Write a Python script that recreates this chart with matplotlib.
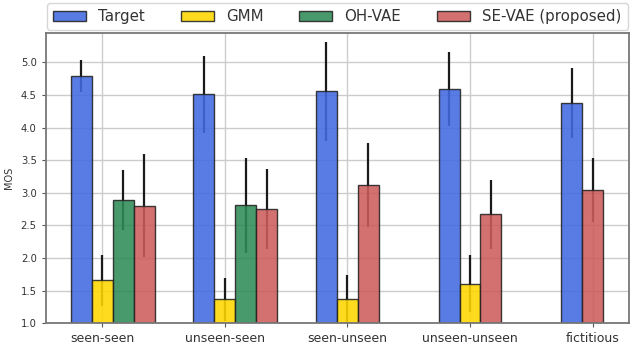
import matplotlib
matplotlib.use("Agg")
import matplotlib.pyplot as plt
import numpy as np

# Data (None = bar not present)
conditions = ["seen-seen", "unseen-seen", "seen-unseen", "unseen-unseen", "fictitious"]
series = ["Target", "GMM", "OH-VAE", "SE-VAE (proposed)"]

target_mean = [4.79, 4.51, 4.56, 4.59, 4.38]
target_err = [0.24, 0.59, 0.76, 0.57, 0.54]
gmm_mean = [1.66, 1.37, 1.38, 1.61, None]
gmm_err = [0.39, 0.33, 0.36, 0.43, None]
ohvae_mean = [2.89, 2.81, None, None, None]
ohvae_err = [0.46, 0.73, None, None, None]
sevae_mean = [2.80, 2.75, 3.12, 2.67, 3.05]
sevae_err = [0.79, 0.61, 0.65, 0.53, 0.49]

means = [target_mean, gmm_mean, ohvae_mean, sevae_mean]
errs = [target_err, gmm_err, ohvae_err, sevae_err]
colors = ["royalblue", "gold", "seagreen", "indianred"]

fig = plt.figure(figsize=(6.41, 3.54), dpi=100)
ax = fig.add_axes([0.0713, 0.0867, 0.9097, 0.8213])

w = 0.171
for g in range(len(conditions)):
    # first series sits left of the tick, the rest are packed from the tick on
    slot = -1
    for s in range(len(series)):
        m = means[s][g]
        if m is None:
            continue
        x = g + slot * w
        slot += 1
        ax.errorbar(x, m, yerr=errs[s][g], fmt="none", ecolor="#1a1a1a",
                    elinewidth=1.6, capsize=0, zorder=0.8)
        ax.bar(x, m - 1.0, bottom=1.0, width=w, color=colors[s],
               edgecolor="#222222", linewidth=1.0, alpha=0.88, zorder=1)

handles = [plt.Rectangle((0, 0), 1, 1, facecolor=c, edgecolor="#222222",
                         linewidth=1.0, alpha=0.88) for c in colors]
leg = ax.legend(handles, series, loc="lower center", bbox_to_anchor=(0.5, 1.0),
                ncol=4, fontsize=10.8, frameon=True, borderaxespad=0.15,
                handlelength=2.2, columnspacing=2.4, fancybox=True,
                edgecolor="#cccccc")
for t in leg.get_texts():
    t.set_color("#333333")

ax.set_xticks(np.arange(len(conditions)))
ax.set_xticklabels(conditions, fontsize=9, color="#333333")
ax.set_xlim(-0.462, 4.296)
ax.set_ylim(1.0, 5.457)
yt = np.arange(1.0, 5.01, 0.5)
ax.set_yticks(yt)
ax.set_yticklabels([f"{v:.1f}" for v in yt], fontsize=7.2, color="#333333")
ax.set_ylabel("MOS", fontsize=7, color="#333333", labelpad=5)
ax.tick_params(axis="both", length=3, color="#555555")

ax.grid(True, color="#cccccc", linewidth=1.0, zorder=0)
ax.set_axisbelow(True)
for sp in ax.spines.values():
    sp.set_color("#777777")
    sp.set_linewidth(1.3)

plt.savefig("out.png", dpi=100)
